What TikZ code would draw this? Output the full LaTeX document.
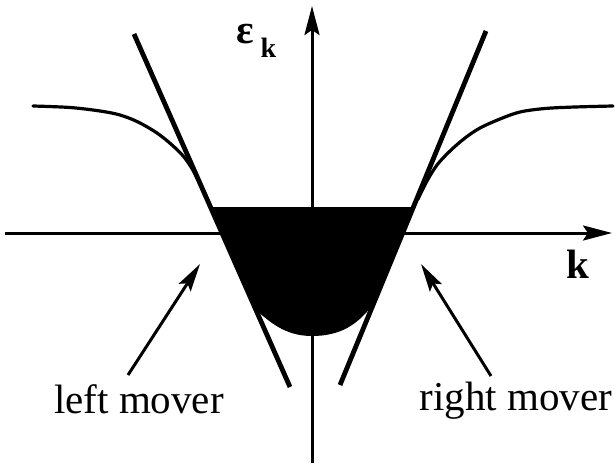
\documentclass[tikz,border=0pt]{standalone}
\usepackage{fontspec}
\setmainfont{Liberation Serif}
\usetikzlibrary{arrows.meta}
\begin{document}
\begin{tikzpicture}[x=1pt,y=-1pt,
  axis/.style={line width=3pt,-{Stealth[length=29pt,width=15pt,inset=5pt]}},
  moverline/.style={line width=4.8pt,line cap=butt},
  band/.style={line width=3.2pt,line cap=round},
  pointer/.style={line width=3pt,-{Stealth[length=28pt,width=14pt,inset=5pt]}},
  lbl/.style={font=\fontsize{41}{41}\selectfont,anchor=base,inner sep=0pt},
  blbl/.style={font=\fontsize{41}{41}\selectfont\bfseries,anchor=base,inner sep=0pt}]
\useasboundingbox (0,0) rectangle (615,463);
% filled states
\fill[black] (210.5,207) -- (413.5,207) -- (374,303)
  .. controls (358,325) and (340,336) .. (312,336)
  .. controls (285,336) and (270,322) .. (256,310) -- cycle;
% coordinates
\coordinate (yb) at (312,463);
\coordinate (yt) at (312,6);
\coordinate (xl) at (5,233);
\coordinate (xr) at (612,233);
\coordinate (L1) at (134,34);
\coordinate (L2) at (290,387);
\coordinate (R1) at (486,31);
\coordinate (R2) at (340,385);
\coordinate (lmtail) at (128,375);
\coordinate (lmtip) at (200,264);
\coordinate (rmtail) at (491,376);
\coordinate (rmtip) at (421,264);
% axes
\draw[axis] (yb) -- (yt);
\draw[axis] (xl) -- (xr);
% linearized branches
\draw[moverline] (L1) -- (L2);
\draw[moverline] (R1) -- (R2);
% band
\draw[band] plot[smooth,tension=0.55] coordinates {(33,106) (70,107.5) (100,111) (120,115) (138,122) (157,133) (172,145) (184,157) (194,172) (205,194)};
\draw[band] plot[smooth,tension=0.55] coordinates {(613,106) (575,107) (545,108.5) (520,112) (500,119) (480,128) (465,138) (450,151) (437,165) (427,181) (418,199)};
% pointers
\draw[pointer] (lmtail) -- (lmtip);
\draw[pointer] (rmtail) -- (rmtip);
% labels
\node[lbl] (lm) at (139,413) {left mover};
\node[lbl] (rm) at (516,410) {right mover};
\node[blbl] (kl) at (578,278) {k};
\node[blbl] (eps) at (245.5,43) {ε};
\node[font=\fontsize{28}{28}\selectfont\bfseries,anchor=base,inner sep=0pt] (epk) at (268.5,57) {k};
\end{tikzpicture}
\end{document}
